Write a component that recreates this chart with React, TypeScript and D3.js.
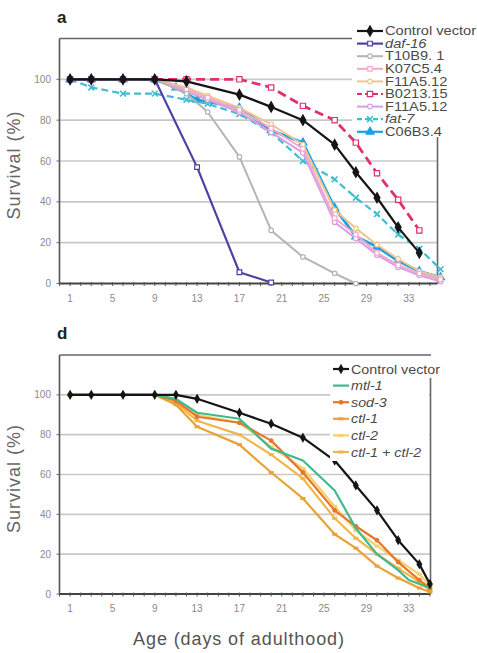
import React from "react";
import * as d3 from "d3";

// ---- panel a data (day of adulthood, % survival) ----
const controlADays = [1, 3, 6, 9, 12, 17, 20, 23, 26, 28, 30, 32, 34];
const controlA = [100, 100, 100, 100, 99, 92.5, 86.5, 80, 68, 54.5, 42, 27.5, 15];
const daf16Days = [1, 3, 6, 9, 13, 17, 20];
const daf16 = [100, 100, 100, 100, 57, 5.5, 0.5];
const t10b9Days = [1, 3, 6, 9, 12, 14, 17, 20, 23, 26, 28];
const t10b9 = [100, 100, 100, 100, 93, 84, 62, 26, 13, 5, 0];
const lateDays = [1, 3, 6, 9, 12, 14, 17, 20, 23, 26, 28, 30, 32, 34, 36];
const k07c5 = [100, 100, 100, 100, 95, 91, 85, 76, 66, 32, 24, 15, 9, 5, 2];
const f11a5a = [100, 100, 100, 100, 96, 92, 86, 78, 68, 36, 27, 19, 12, 6, 3];
const b0213Days = [1, 3, 6, 9, 12, 17, 20, 23, 26, 28, 30, 32, 34];
const b0213 = [100, 100, 100, 100, 100, 100, 96, 87, 80, 69, 54, 41, 26];
const f11a5b = [100, 100, 100, 100, 94, 90, 84, 74, 64, 30, 22, 14, 8, 4, 1];
const fat7 = [100, 96, 93, 93, 90, 88, 83, 74, 60, 51, 42, 34, 24, 17, 7];
const c06b3Days = [1, 3, 6, 9, 11, 13, 17, 20, 23, 26, 28, 30, 32, 34, 36];
const c06b3 = [100, 100, 100, 100, 96, 90, 86, 75, 69, 37, 23, 18, 11, 6, 3];

// ---- panel d data ----
const controlDDays = [1, 3, 6, 9, 11, 13, 17, 20, 23, 26, 28, 30, 32, 34, 35];
const controlD = [100, 100, 100, 100, 100, 98, 91, 85.5, 78.5, 67, 54.5, 42, 27, 15, 5];
const mtl1Days = [1, 3, 6, 9, 11, 13, 17, 20, 23, 26, 28, 30, 32, 33, 35];
const mtl1 = [100, 100, 100, 100, 98, 91, 88, 73, 67, 52, 33, 20, 12, 7, 3];
const dDays = [1, 3, 6, 9, 11, 13, 17, 20, 23, 26, 28, 30, 32, 34, 35];
const sod3 = [100, 100, 100, 100, 97, 89, 86, 77, 61, 42, 34, 27, 16, 7, 3];
const ctl1 = [100, 100, 100, 100, 95, 84, 75, 61, 48, 30, 23, 14, 8, 3, 1];
const ctl2 = [100, 100, 100, 100, 97, 90, 86, 74, 63, 44, 32, 24, 17, 10, 4];
const ctl12 = [100, 100, 100, 100, 96, 87, 80, 70, 58, 38, 28, 20, 13, 6, 2];

const xTicks = [1, 5, 9, 13, 17, 21, 25, 29, 33];
const yTicks = [0, 20, 40, 60, 80, 100];

type Series = {
  name: string;
  italic?: boolean;
  days: number[];
  values: number[];
  color: string;
  width: number;
  dash?: string;
  marker: "diamond" | "square" | "circle" | "triangle" | "cross" | "dash" | "none";
  open?: boolean;
  msize: number;
};

const seriesA: Series[] = [
  { name: "Control vector", days: controlADays, values: controlA, color: "#151515", width: 2.2, marker: "diamond", msize: 30 },
  { name: "daf-16", italic: true, days: daf16Days, values: daf16, color: "#4b43a3", width: 2.2, marker: "square", open: true, msize: 22 },
  { name: "T10B9. 1", days: t10b9Days, values: t10b9, color: "#b4b4b4", width: 2, marker: "circle", open: true, msize: 16 },
  { name: "K07C5.4", days: lateDays, values: k07c5, color: "#f2a9c9", width: 2, marker: "square", open: true, msize: 20 },
  { name: "F11A5.12", days: lateDays, values: f11a5a, color: "#f0c690", width: 2, marker: "circle", open: true, msize: 16 },
  { name: "B0213.15", days: b0213Days, values: b0213, color: "#e0306f", width: 2.8, dash: "9,5", marker: "square", open: true, msize: 28 },
  { name: "F11A5.12", days: lateDays, values: f11a5b, color: "#d89ee2", width: 2, marker: "circle", open: true, msize: 18 },
  { name: "fat-7", italic: true, days: lateDays, values: fat7, color: "#3dbdd2", width: 2.2, dash: "7,4", marker: "cross", msize: 24 },
  { name: "C06B3.4", days: c06b3Days, values: c06b3, color: "#1aa2e2", width: 2.8, marker: "triangle", msize: 28 },
];

const seriesD: Series[] = [
  { name: "Control vector", days: controlDDays, values: controlD, color: "#151515", width: 2.2, marker: "diamond", msize: 18 },
  { name: "mtl-1", italic: true, days: mtl1Days, values: mtl1, color: "#3fb98d", width: 2.2, marker: "none", msize: 0 },
  { name: "sod-3", italic: true, days: dDays, values: sod3, color: "#e8762a", width: 2.2, marker: "circle", msize: 10 },
  { name: "ctl-1", italic: true, days: dDays, values: ctl1, color: "#e9a236", width: 2.2, marker: "dash", msize: 10 },
  { name: "ctl-2", italic: true, days: dDays, values: ctl2, color: "#f3d26a", width: 2.2, marker: "dash", msize: 10 },
  { name: "ctl-1 + ctl-2", italic: true, days: dDays, values: ctl12, color: "#f0b64a", width: 2.2, marker: "dash", msize: 10 },
];

const symbolOf: Record<string, d3.SymbolType> = {
  diamond: d3.symbolDiamond,
  square: d3.symbolSquare,
  circle: d3.symbolCircle,
  triangle: d3.symbolTriangle,
  cross: d3.symbolX,
};

function Marker({ s, x, y }: { s: Series; x: number; y: number }) {
  if (s.marker === "none") return null;
  if (s.marker === "dash") {
    return <line x1={x - 2.5} x2={x + 2.5} y1={y} y2={y} stroke={s.color} strokeWidth={3} />;
  }
  const path = d3.symbol().type(symbolOf[s.marker]).size(s.msize)() as string;
  const isX = s.marker === "cross";
  return (
    <path
      d={path}
      transform={`translate(${x},${y})`}
      fill={isX ? "none" : s.open ? "#fff" : s.color}
      stroke={s.color}
      strokeWidth={isX ? 1.6 : 1.2}
    />
  );
}

type PanelProps = {
  label: string;
  top: number;
  bottom: number;
  right: number;
  series: Series[];
  legend: { x: number; y: number; step: number; sample: number; font: number; sx: number };
  legendBox: [number, number, number, number];
  borderFrom: number;
  topLineTo: number;
};

function Panel({ label, top, bottom, right, series, legend, legendBox, borderFrom, topLineTo }: PanelProps) {
  const x = d3.scaleLinear().domain([0, 36]).range([59.5, 440.5]);
  const y = d3.scaleLinear().domain([0, 120]).range([bottom, top]);
  const left = x(0);
  const line = d3
    .line<[number, number]>()
    .x((d) => x(d[0]))
    .y((d) => y(d[1]));
  const dayMarks = d3.range(0, 36);

  return (
    <g>
      <text x={57} y={top - 16} fontSize={17} fontWeight="bold" fill="#222" fontFamily="Liberation Sans, Arial, sans-serif">
        {label}
      </text>
      {/* gridlines */}
      {yTicks.slice(1).map((t) => (
        <line key={t} x1={left} x2={right} y1={y(t)} y2={y(t)} stroke="#c9c9c9" strokeWidth={1.6} />
      ))}
      {/* frame */}
      <line x1={left} x2={topLineTo} y1={top} y2={top} stroke="#666" strokeWidth={1.6} />
      <line x1={left} x2={left} y1={top} y2={bottom} stroke="#555" strokeWidth={1.6} />
      <line x1={right} x2={right} y1={borderFrom} y2={bottom} stroke="#666" strokeWidth={1.6} />
      <line x1={left} x2={right} y1={bottom} y2={bottom} stroke="#444" strokeWidth={1.8} />
      {dayMarks.map((d) => (
        <line key={d} x1={x(d)} x2={x(d)} y1={bottom - 1.5} y2={bottom + 2.5} stroke="#555" strokeWidth={1} />
      ))}
      {yTicks.map((t) => (
        <g key={t}>
          <line x1={left - 3} x2={left} y1={y(t)} y2={y(t)} stroke="#666" strokeWidth={1} />
          <text x={51} y={y(t)} dy="0.35em" textAnchor="end" fontSize={10} fill="#8a8a8a" fontFamily="Liberation Sans, Arial, sans-serif">
            {t}
          </text>
        </g>
      ))}
      {xTicks.map((t) => (
        <text key={t} x={x(t)} y={bottom + 18} textAnchor="middle" fontSize={10} fill="#8a8a8a" fontFamily="Liberation Sans, Arial, sans-serif">
          {t}
        </text>
      ))}
      <text
        transform={`translate(20,${(top + bottom) / 2 + 4}) rotate(-90)`}
        textAnchor="middle"
        fontSize={18}
        letterSpacing={1}
        fill="#666"
        fontFamily="Liberation Sans, Arial, sans-serif"
      >
        Survival (%)
      </text>
      {/* series, drawn back to front */}
      {[...series].reverse().map((s, i) => {
        const pts = s.days.map((d, k) => [d, s.values[k]] as [number, number]);
        return (
          <g key={i}>
            <path d={line(pts) as string} fill="none" stroke={s.color} strokeWidth={s.width} strokeDasharray={s.dash} strokeLinejoin="round" />
            {pts.map((p, k) => (
              <Marker key={k} s={s} x={x(p[0])} y={y(p[1])} />
            ))}
          </g>
        );
      })}
      {/* legend */}
      <rect x={legendBox[0]} y={legendBox[1]} width={legendBox[2]} height={legendBox[3]} fill="#fff" />
      {series.map((s, i) => {
        const ly = legend.y + i * legend.step;
        const x0 = legend.x;
        const x1 = legend.x + legend.sample;
        return (
          <g key={i}>
            <line x1={x0} x2={x1} y1={ly} y2={ly} stroke={s.color} strokeWidth={Math.min(s.width, 2.2)} strokeDasharray={s.dash ? "5,3" : undefined} />
            <Marker s={s} x={(x0 + x1) / 2} y={ly} />
            <text
              transform={`translate(${x1 + 2},${ly}) scale(${legend.sx},1)`}
              dy="0.35em"
              fontSize={legend.font}
              fontStyle={s.italic ? "italic" : "normal"}
              fill="#4a4a4a"
              fontFamily="Liberation Sans, Arial, sans-serif"
            >
              {s.name}
            </text>
          </g>
        );
      })}
    </g>
  );
}

export default function App() {
  return (
    <svg width={477} height={653} style={{ position: "absolute", left: 0, top: 0, background: "#fff" }}>
      <rect width={477} height={653} fill="#fff" />
      <Panel
        label="a"
        top={38.5}
        bottom={283.5}
        right={437.5}
        series={seriesA}
        legend={{ x: 357, y: 31, step: 12.6, sample: 26, font: 12, sx: 1.22 }}
        legendBox={[352, 23, 125, 114]}
        borderFrom={136}
        topLineTo={352}
      />
      <Panel
        label="d"
        top={355}
        bottom={594}
        right={430.5}
        series={seriesD}
        legend={{ x: 333, y: 369, step: 16.6, sample: 16, font: 13, sx: 1.1 }}
        legendBox={[330, 361, 99, 100]}
        borderFrom={378}
        topLineTo={431}
      />
      <text x={239} y={645} textAnchor="middle" fontSize={18} letterSpacing={0.9} fill="#555" fontFamily="Liberation Sans, Arial, sans-serif">
        Age (days of adulthood)
      </text>
    </svg>
  );
}
